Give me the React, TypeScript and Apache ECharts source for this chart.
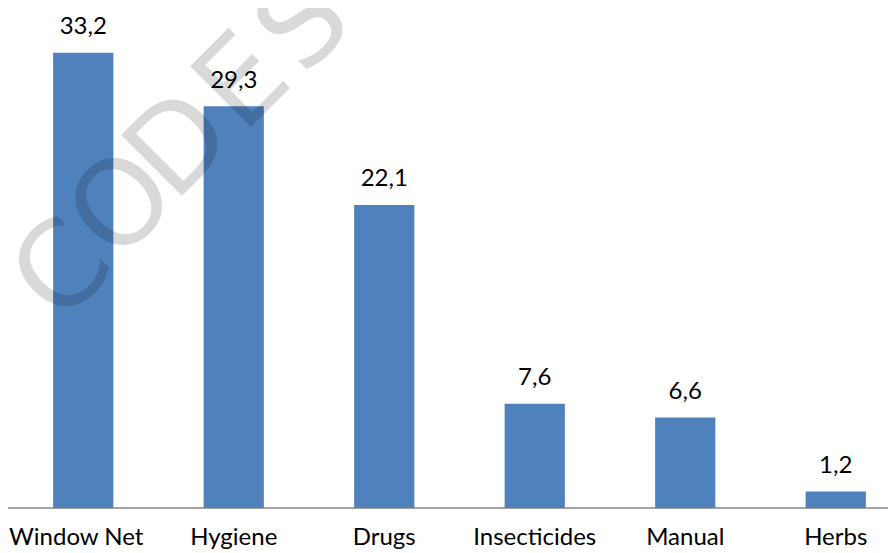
import React, { useEffect, useRef } from "react";
import * as echarts from "echarts";

const categories = ["Window Net", "Hygiene", "Drugs", "Insecticides", "Manual", "Herbs"];
const values = [33.2, 29.3, 22.1, 7.6, 6.6, 1.2];

// watermark letters and their centres, laid out along a 45° diagonal
const markLetters = ["C", "O", "D", "E", "S", "P"];
const markCentres = [
  [60, 268],
  [120, 203],
  [177, 143],
  [240, 80],
  [301, 22],
  [362, -38],
];

const FONT = "Lato, 'Open Sans', sans-serif";

export default function App() {
  const ref = useRef<HTMLDivElement>(null);

  useEffect(() => {
    if (!ref.current) return;
    const chart = echarts.init(ref.current, undefined, { renderer: "svg" });
    chart.setOption({
      animation: false,
      grid: { left: 8, right: 0, top: 28, bottom: 45, containLabel: false },
      xAxis: {
        type: "category",
        data: categories.map((c, i) =>
          i === 0 ? { value: c, textStyle: { padding: [0, 14, 0, 0] } } : c
        ),
        axisTick: { show: false },
        axisLine: { lineStyle: { color: "#868686", width: 1.5 } },
        axisLabel: { color: "#000", fontSize: 24, fontFamily: FONT, margin: 15, interval: 0 },
      },
      yAxis: {
        type: "value",
        min: 0,
        max: 35,
        show: false,
        splitLine: { show: false },
      },
      series: [
        {
          type: "bar",
          data: values,
          barWidth: "40%",
          itemStyle: { color: "#4f81bd" },
          label: {
            show: true,
            position: "top",
            distance: 16,
            color: "#000",
            fontSize: 24,
            fontFamily: FONT,
            formatter: (p: any) => String(p.value).replace(".", ","),
          },
        },
      ],
      graphic: markLetters.map((ch, i) => ({
        type: "text",
        x: markCentres[i][0],
        y: markCentres[i][1],
        rotation: Math.PI / 4,
        z: 100,
        silent: true,
        style: {
          text: ch,
          fontSize: 118,
          fontFamily: "'DejaVu Sans', sans-serif",
          fill: "rgba(0,0,0,0.15)",
          align: "center",
          verticalAlign: "middle",
        },
      })),
    });
    return () => chart.dispose();
  }, []);

  return (
    <div style={{ width: 896, height: 553, margin: "-8px 0 0 -8px", overflow: "hidden" }}>
      <div ref={ref} style={{ width: 911, height: 553 }} />
    </div>
  );
}
